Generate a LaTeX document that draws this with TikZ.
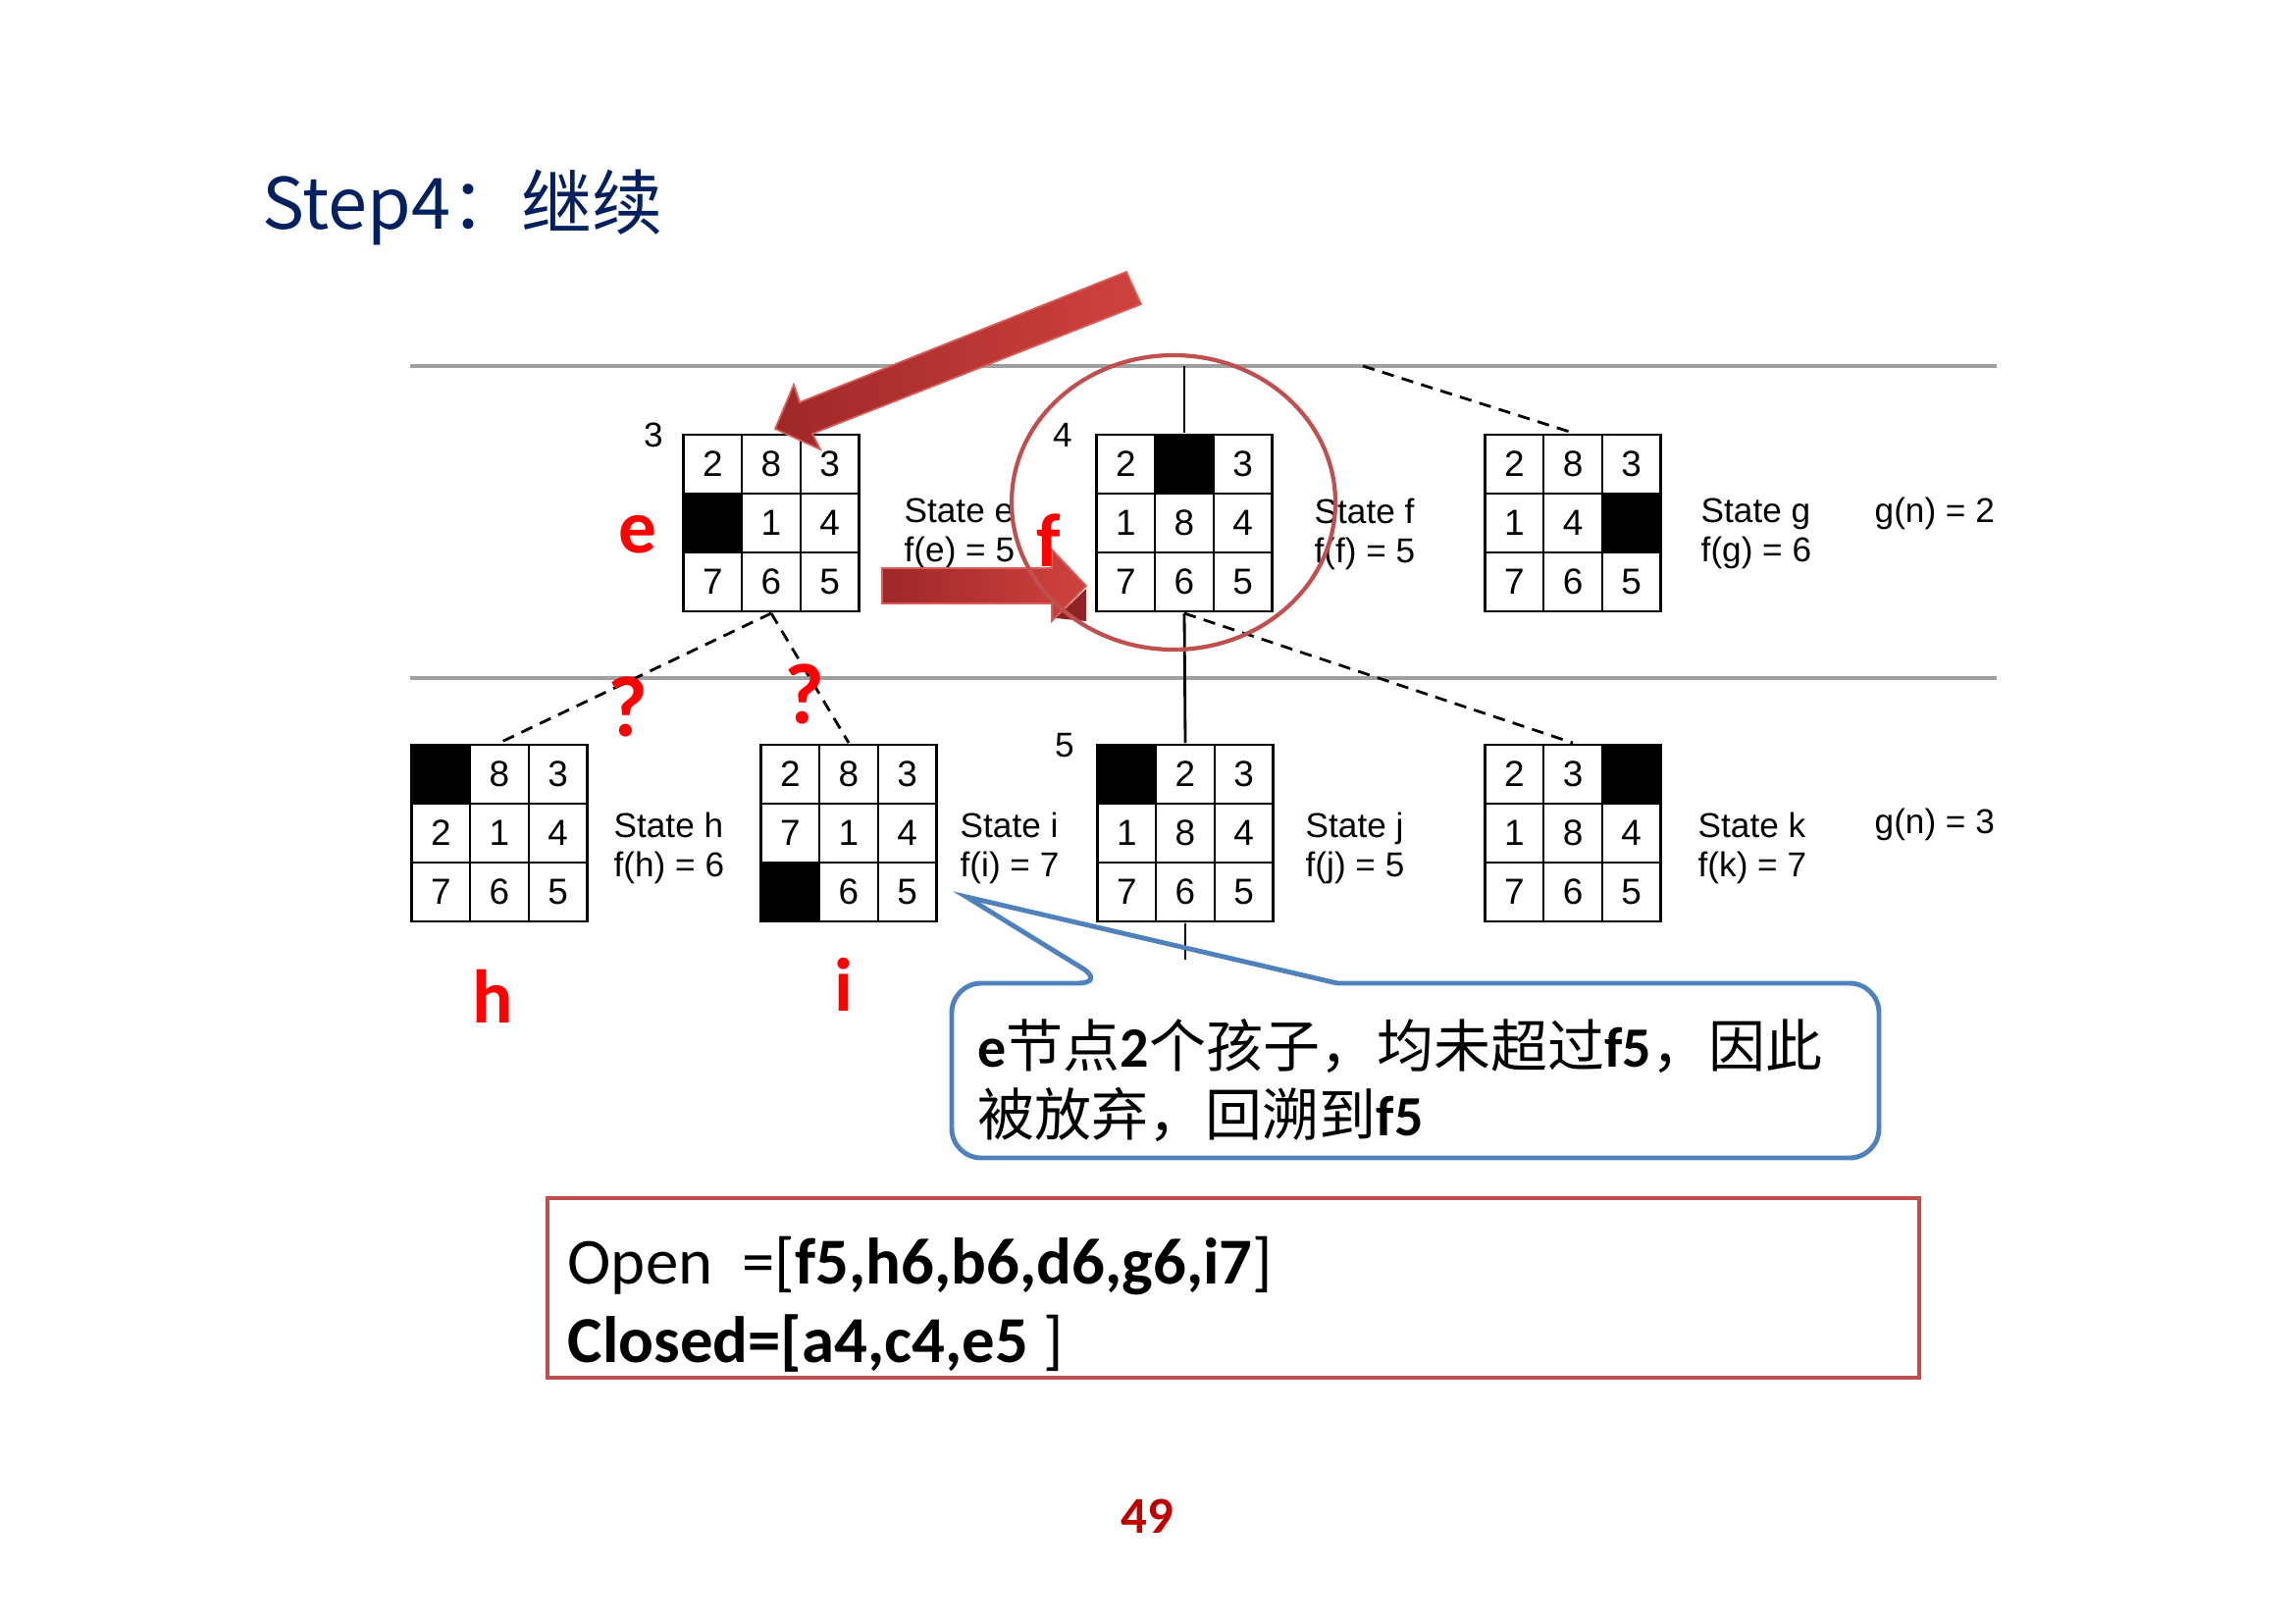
\documentclass[tikz,border=0pt]{standalone}
\usepackage{fontspec}
\setmainfont{Liberation Sans}
\newfontfamily\cjkfont{Noto Sans CJK SC}
\newfontfamily\califont{Carlito}
\usetikzlibrary{matrix}

\definecolor{titleblue}{RGB}{0,32,96}
\definecolor{ringred}{RGB}{192,80,77}
\definecolor{calloutblue}{RGB}{79,129,189}
\definecolor{arrowlight}{RGB}{208,66,62}
\definecolor{arrowdark}{RGB}{158,40,40}
\definecolor{pagered}{RGB}{192,0,0}
\definecolor{rulegray}{RGB}{160,160,160}

\newcommand{\latb}[1]{{\califont\bfseries #1}}

\begin{document}
\begin{tikzpicture}[x=0.01cm, y=-0.01cm,
  tile/.style={draw, line width=0.7pt, minimum width=0.597cm, minimum height=0.6cm,
    inner sep=0pt, anchor=center, font=\fontsize{10.5}{12}\selectfont},
  hole/.style={fill=black},
  board/.style={matrix of nodes, nodes in empty cells, nodes={tile},
    column sep=-0.7pt, row sep=-0.7pt, inner sep=0pt},
  lbl/.style={font=\fontsize{10}{11.4}\selectfont, inner sep=0pt},
  redtag/.style={font=\califont\bfseries\fontsize{22}{24}\selectfont, text=red,
    inner sep=0pt, anchor=base},
  levelrule/.style={rulegray, line width=0.9pt},
  branch/.style={line width=0.8pt},
  dbranch/.style={branch, dash pattern=on 3.5pt off 2.4pt},
  blockarrow/.style={left color=arrowdark, right color=arrowlight,
    draw=arrowlight!85!white, line width=0.5pt}
]
\useasboundingbox (0,0) rectangle (2339,1654);

% ---- Title ----
\node[anchor=base west, inner sep=0pt, text=titleblue,
  font=\cjkfont\fontsize{20.5}{24}\selectfont] (title) at (267,233) {Step4：继续};

% ---- Level rules ----
\draw[levelrule] (418,373) -- (2035,373);
\draw[levelrule] (418,691) -- (2035,691);

% ---- Boards, depth 2 ----
\matrix (e) [board] at (786,533) {
  2 & 8 & 3 \\
  |[hole]| & 1 & 4 \\
  7 & 6 & 5 \\
};
\matrix (f) [board] at (1207,533) {
  2 & |[hole]| & 3 \\
  1 & 8 & 4 \\
  7 & 6 & 5 \\
};
\matrix (g) [board] at (1603,533) {
  2 & 8 & 3 \\
  1 & 4 & |[hole]| \\
  7 & 6 & 5 \\
};

% ---- Boards, depth 3 ----
\matrix (h) [board] at (509,849) {
  |[hole]| & 8 & 3 \\
  2 & 1 & 4 \\
  7 & 6 & 5 \\
};
\matrix (i) [board] at (865,849) {
  2 & 8 & 3 \\
  7 & 1 & 4 \\
  |[hole]| & 6 & 5 \\
};
\matrix (j) [board] at (1208,849) {
  |[hole]| & 2 & 3 \\
  1 & 8 & 4 \\
  7 & 6 & 5 \\
};
\matrix (k) [board] at (1603,849) {
  2 & 3 & |[hole]| \\
  1 & 8 & 4 \\
  7 & 6 & 5 \\
};

% ---- Branches ----
\coordinate (ftop) at (1207,373);
\coordinate (gtop) at (1389,373);
\coordinate (jbot) at (1208,978);
\draw[branch] (ftop) -- (f.north);
\draw[branch] (f.south) -- (j.north);
\draw[branch] (j.south) -- (jbot);
\draw[dbranch] (gtop) -- (g.north);
\draw[dbranch] (e.south) -- (h.north);
\draw[dbranch] (e.south) -- (i.north);
\draw[dbranch] (f.south) -- (k.north);

% ---- Order numbers and state labels ----
\node[lbl] (ne) at (666,443) {3};
\node[lbl] (nf) at (1083,443) {4};
\node[lbl] (nj) at (1085,760) {5};

\node[lbl, anchor=west, align=left] (se) at (921,544)  {State e\\f(e) = 5};
\node[lbl, anchor=west, align=left] (sf) at (1339,544) {State f\\f(f) = 5};
\node[lbl, anchor=west, align=left] (sg) at (1733,544) {State g\\f(g) = 6};
\node[lbl, anchor=west, align=left] (sh) at (625,864)  {State h\\f(h) = 6};
\node[lbl, anchor=west, align=left] (si) at (978,864)  {State i\\f(i) = 7};
\node[lbl, anchor=west, align=left] (sj) at (1330,864) {State j\\f(j) = 5};
\node[lbl, anchor=west, align=left] (sk) at (1730,864) {State k\\f(k) = 7};

\node[lbl, anchor=west] (gn2) at (1910,523) {g(n) = 2};
\node[lbl, anchor=west] (gn3) at (1910,840) {g(n) = 3};

% ---- Block arrows ----
\shadedraw[blockarrow] (1148,277) -- (1163,310) -- (828,442) -- (836,458)
  -- (790,437) -- (809,392) -- (815,410) -- cycle;
\shadedraw[blockarrow] (899,579) -- (1072,579) -- (1072,560) -- (1107,597)
  -- (1072,633) -- (1072,615) -- (899,615) -- cycle;
\fill[arrowdark!90!black] (1076,630) -- (1107,600) -- (1107,633) -- cycle;

% ---- Ring round f ----
\draw[ringred, line width=1.2pt] (1196,512) ellipse [x radius=165, y radius=150];

% ---- Red tags ----
\node[redtag] (te) at (650,563) {e};
\node[redtag] (tf) at (1069,577) {f};
\node[redtag] (th) at (502,1042) {h};
\node[redtag] (ti) at (860,1030) {i};
\node[redtag, font=\califont\bfseries\fontsize{25}{28}\selectfont] (q1) at (640,750) {?};
\node[redtag, font=\califont\bfseries\fontsize{25}{28}\selectfont] (q2) at (820,737) {?};

% ---- Callout ----
\coordinate (ptip) at (985,914);
\draw[calloutblue, line width=1.4pt, rounded corners=0.3cm]
  (1363,1002) -- (1915,1002) -- (1915,1180) -- (970,1180) -- (970,1002)
  -- (1128,1002) [sharp corners] -- (ptip) -- cycle;
\node[anchor=base west, inner sep=0pt, font=\cjkfont\fontsize{16.5}{20}\selectfont]
  (note1) at (996,1087) {\latb{e}节点\latb{2}个孩子，均未超过\latb{f5}，因此};
\node[anchor=base west, inner sep=0pt, font=\cjkfont\fontsize{16.5}{20}\selectfont]
  (note2) at (996,1157) {被放弃，回溯到\latb{f5}};

% ---- Open / Closed lists ----
\draw[ringred, line width=1.4pt] (558,1221) rectangle (1956,1404);
\node[anchor=base west, inner sep=0pt, font=\califont\fontsize{19}{24}\selectfont]
  (openl) at (578,1308) {Open\ \ =[\textbf{f5,h6,b6,d6,g6,i7}]};
\node[anchor=base west, inner sep=0pt, font=\califont\fontsize{19}{24}\selectfont]
  (closedl) at (578,1388) {\textbf{Closed=[a4,c4,e5}\ ]};

% ---- Page number ----
\node[inner sep=0pt, text=pagered, font=\califont\bfseries\fontsize{15}{18}\selectfont]
  (pnum) at (1169,1545) {49};

\end{tikzpicture}
\end{document}
